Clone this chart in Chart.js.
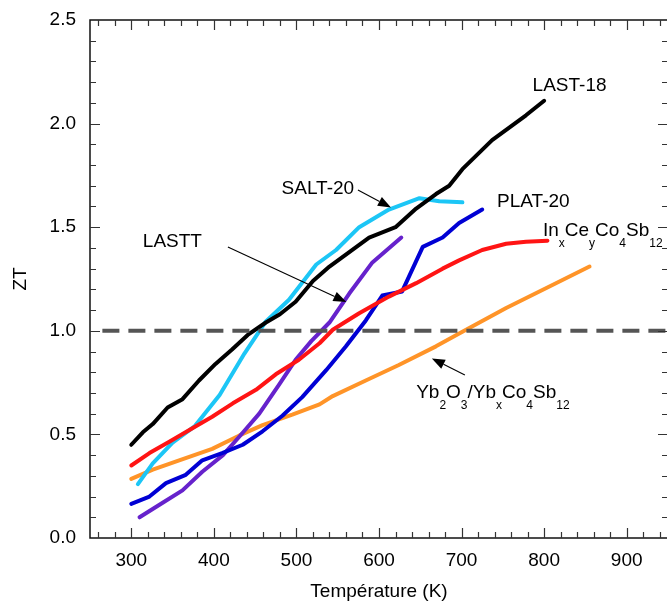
<!DOCTYPE html>
<html>
<head>
<meta charset="utf-8">
<script src="https://cdn.jsdelivr.net/npm/chart.js@4.4.1/dist/chart.umd.min.js"></script>
<style>
  html, body { margin: 0; padding: 0; background: #fff; overflow: hidden; }
  #wrap { width: 667px; height: 603px; overflow: hidden; }
</style>
</head>
<body>
<div id="wrap"><canvas id="ztChart" width="672" height="603"></canvas></div>
<script>
// Tick labels
const xTicks = [300, 400, 500, 600, 700, 800, 900];
const yTicks = [0, 0.5, 1.0, 1.5, 2.0, 2.5];

// LAST-18 (black)
const last18T = [300, 314, 326, 344, 362, 382, 402, 422, 441, 463, 480, 499, 520, 540, 564, 588, 620, 645, 669, 685, 701, 737, 778, 800];
const last18ZT = [0.45, 0.51, 0.55, 0.63, 0.67, 0.76, 0.84, 0.91, 0.98, 1.04, 1.08, 1.14, 1.24, 1.31, 1.38, 1.45, 1.50, 1.59, 1.66, 1.70, 1.78, 1.92, 2.04, 2.11];

// SALT-20 (light blue)
const salt20T = [308, 326, 350, 377, 407, 437, 463, 491, 524, 548, 576, 612, 649, 673, 701];
const salt20ZT = [0.26, 0.36, 0.46, 0.54, 0.69, 0.89, 1.045, 1.15, 1.32, 1.39, 1.50, 1.585, 1.64, 1.625, 1.62];

// PLAT-20 (blue)
const plat20T = [300, 322, 342, 366, 386, 410, 435, 459, 483, 507, 536, 560, 584, 604, 628, 653, 677, 697, 725];
const plat20ZT = [0.165, 0.20, 0.265, 0.305, 0.375, 0.41, 0.45, 0.515, 0.59, 0.68, 0.81, 0.925, 1.05, 1.17, 1.19, 1.405, 1.45, 1.52, 1.585];

// LASTT (purple)
const lasttT = [310, 338, 362, 386, 411, 431, 455, 479, 499, 518, 540, 564, 592, 627];
const lasttZT = [0.10, 0.17, 0.23, 0.32, 0.40, 0.49, 0.60, 0.74, 0.86, 0.95, 1.04, 1.18, 1.33, 1.45];

// InxCeyCo4Sb12 (red)
const inCeT = [300, 322, 346, 374, 398, 423, 451, 475, 503, 528, 544, 576, 612, 645, 677, 697, 725, 754, 778, 804];
const inCeZT = [0.35, 0.41, 0.465, 0.53, 0.585, 0.65, 0.715, 0.79, 0.86, 0.94, 1.005, 1.085, 1.165, 1.23, 1.30, 1.34, 1.39, 1.42, 1.43, 1.435];

// Yb2O3/YbxCo4Sb12 (orange)
const ybT = [300, 326, 358, 398, 431, 459, 495, 528, 544, 584, 624, 669, 701, 754, 807, 855];
const ybZT = [0.285, 0.33, 0.375, 0.43, 0.495, 0.545, 0.595, 0.645, 0.685, 0.76, 0.835, 0.925, 0.995, 1.11, 1.215, 1.31];

// ZT = 1 reference line
const refT = [265, 950];
const refZT = [1.0, 1.0];

const FONT = '"Liberation Sans", Arial, Helvetica, sans-serif';

function toPoints(xs, ys) {
  return xs.map((x, i) => ({ x: x, y: ys[i] }));
}

function curve(xs, ys, color) {
  return {
    data: toPoints(xs, ys),
    showLine: true,
    borderColor: color,
    borderWidth: 4,
    borderCapStyle: "round",
    borderJoinStyle: "round",
    pointRadius: 0,
    fill: false,
  };
}

// Text labels, [text, isSubscript] parts; arrows go from/to data coordinates
const labels = [
  { parts: [["LAST-18", 0]], x: 786, y: 2.157 },
  { parts: [["SALT-20", 0]], x: 482, y: 1.66 },
  { parts: [["PLAT-20", 0]], x: 743, y: 1.597 },
  { parts: [["LASTT", 0]], x: 314, y: 1.404 },
  {
    parts: [["In", 0], ["x", 1], ["Ce", 0], ["y", 1], ["Co", 0], ["4", 1], ["Sb", 0], ["12", 1]],
    x: 798.5,
    y: 1.457,
  },
  {
    parts: [["Yb", 0], ["2", 1], ["O", 0], ["3", 1], ["/Yb", 0], ["x", 1], ["Co", 0], ["4", 1], ["Sb", 0], ["12", 1]],
    x: 645,
    y: 0.676,
  },
];

const arrows = [
  { from: [574.5, 1.68], to: [614.5, 1.595] },
  { from: [417, 1.404], to: [560.5, 1.139] },
  { from: [704, 0.787], to: [664, 0.866] },
];

const framePlugin = {
  id: "frame",
  afterDatasetsDraw(chart) {
    const ctx = chart.ctx;
    const area = chart.chartArea;
    const xs = chart.scales.x;
    const ys = chart.scales.y;

    ctx.save();
    // frame
    ctx.strokeStyle = "#111";
    ctx.lineWidth = 1.5;
    ctx.strokeRect(area.left, area.top, area.right - area.left, area.bottom - area.top);

    // inward ticks
    ctx.strokeStyle = "#333";
    ctx.lineWidth = 1.2;
    ctx.beginPath();
    for (let v = 260; v <= 940; v += 20) {
      const px = Math.round(xs.getPixelForValue(v)) + 0.5;
      const len = v % 100 === 0 ? 10 : 6;
      ctx.moveTo(px, area.bottom);
      ctx.lineTo(px, area.bottom - len);
      ctx.moveTo(px, area.top);
      ctx.lineTo(px, area.top + len);
    }
    for (let i = 1; i < 25; i++) {
      const py = Math.round(ys.getPixelForValue(i / 10)) + 0.5;
      const len = i % 5 === 0 ? 10 : 6;
      ctx.moveTo(area.left, py);
      ctx.lineTo(area.left + len, py);
      ctx.moveTo(area.right, py);
      ctx.lineTo(area.right - len, py);
    }
    ctx.stroke();

    // labels
    ctx.fillStyle = "#000";
    ctx.textBaseline = "alphabetic";
    ctx.textAlign = "left";
    labels.forEach((lab) => {
      let px = xs.getPixelForValue(lab.x);
      const py = ys.getPixelForValue(lab.y);
      lab.parts.forEach(([text, sub]) => {
        ctx.font = (sub ? "12px " : "19px ") + FONT;
        ctx.fillText(text, px, sub ? py + 11 : py);
        px += ctx.measureText(text).width;
      });
    });

    // arrows
    ctx.strokeStyle = "#000";
    ctx.lineWidth = 1.1;
    arrows.forEach((a) => {
      const x0 = xs.getPixelForValue(a.from[0]);
      const y0 = ys.getPixelForValue(a.from[1]);
      const x1 = xs.getPixelForValue(a.to[0]);
      const y1 = ys.getPixelForValue(a.to[1]);
      const ang = Math.atan2(y1 - y0, x1 - x0);
      const hl = 13, hw = 5;
      const bx = x1 - hl * Math.cos(ang);
      const by = y1 - hl * Math.sin(ang);
      ctx.beginPath();
      ctx.moveTo(x0, y0);
      ctx.lineTo(bx, by);
      ctx.stroke();
      ctx.beginPath();
      ctx.moveTo(x1, y1);
      ctx.lineTo(bx + hw * Math.sin(ang), by - hw * Math.cos(ang));
      ctx.lineTo(bx - hw * Math.sin(ang), by + hw * Math.cos(ang));
      ctx.closePath();
      ctx.fill();
    });
    ctx.restore();
  },
};

document.addEventListener("DOMContentLoaded", function () {
  const ctx = document.getElementById("ztChart").getContext("2d");
  const axisFont = { family: FONT, size: 19 };

  new Chart(ctx, {
    type: "scatter",
    data: {
      datasets: [
        {
          data: toPoints(refT, refZT),
          showLine: true,
          borderColor: "#555555",
          borderWidth: 4,
          borderDash: [17, 9],
          pointRadius: 0,
          fill: false,
        },
        curve(last18T, last18ZT, "#000000"),
        curve(inCeT, inCeZT, "#ff1414"),
        curve(plat20T, plat20ZT, "#0000d4"),
        curve(salt20T, salt20ZT, "#1cc6f6"),
        curve(lasttT, lasttZT, "#6622cc"),
        curve(ybT, ybZT, "#ff9428"),
      ],
    },
    options: {
      responsive: false,
      animation: false,
      layout: { padding: { top: 20, right: 4, left: 0, bottom: 0 } },
      plugins: {
        legend: { display: false },
        tooltip: { enabled: false },
      },
      scales: {
        x: {
          type: "linear",
          min: 250,
          max: 950,
          grid: { display: false, drawTicks: false },
          border: { display: false },
          afterBuildTicks: (scale) => {
            scale.ticks = xTicks.map((v) => ({ value: v }));
          },
          afterFit: (scale) => {
            scale.height = 65;
            scale.paddingLeft = 0;
            scale.paddingRight = 0;
          },
          ticks: {
            padding: 11,
            color: "#000",
            font: axisFont,
            maxRotation: 0,
            callback: (v) => String(v),
          },
          title: {
            display: true,
            text: "Température (K)",
            color: "#000",
            font: axisFont,
            padding: { top: 0, bottom: 0 },
          },
        },
        y: {
          min: 0,
          max: 2.5,
          grid: { display: false, drawTicks: false },
          border: { display: false },
          afterBuildTicks: (scale) => {
            scale.ticks = yTicks.map((v) => ({ value: v }));
          },
          afterFit: (scale) => {
            scale.width = 90;
            scale.paddingTop = 0;
            scale.paddingBottom = 0;
          },
          ticks: {
            padding: 14,
            color: "#000",
            font: axisFont,
            callback: (v) => Number(v).toFixed(1),
          },
          title: {
            display: true,
            text: "ZT",
            color: "#000",
            font: axisFont,
            padding: { top: 9, bottom: 0 },
          },
        },
      },
    },
    plugins: [framePlugin],
  });
});
</script>
</body>
</html>
